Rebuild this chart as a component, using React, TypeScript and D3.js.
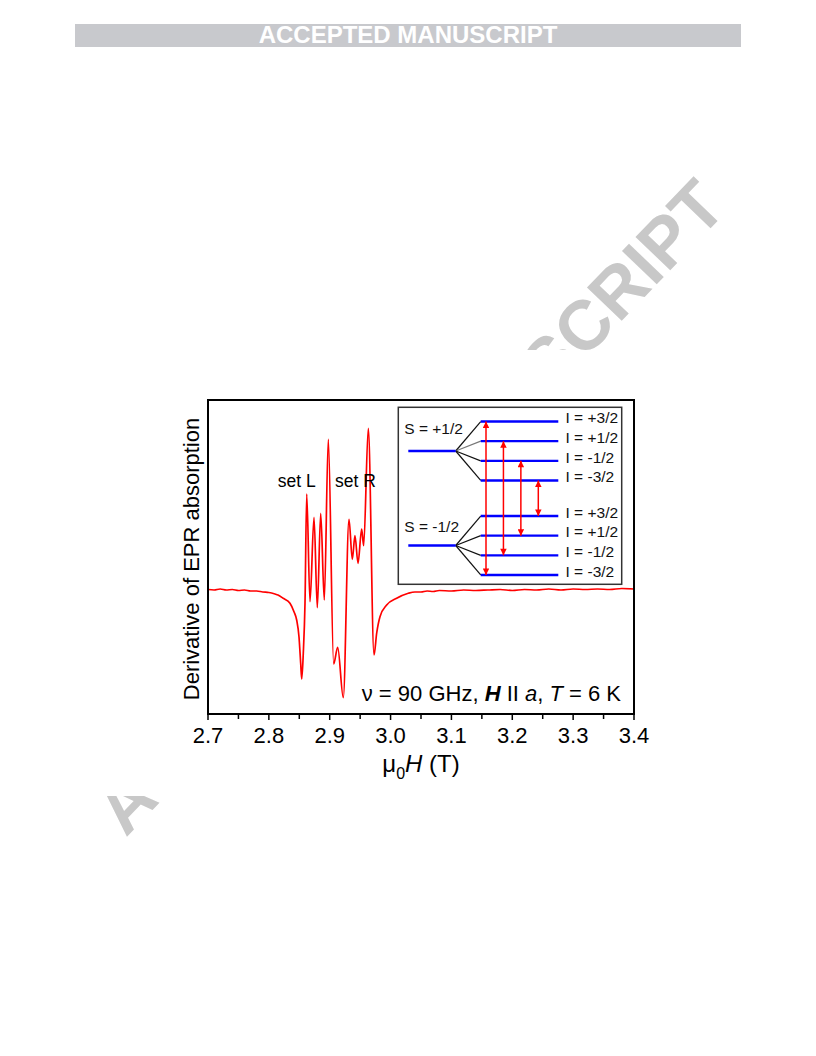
import React from "react";
import * as d3 from "d3";

// ---------- data ----------
const fieldT = [
  2.700, 2.710, 2.720, 2.730, 2.740, 2.750, 2.760, 2.770, 2.780, 2.790, 2.800, 2.810, 2.815,
  2.8237, 2.8347, 2.8413, 2.8457, 2.8495, 2.8523, 2.854, 2.8566, 2.8594,
  2.8622, 2.8676, 2.8742, 2.8796, 2.8852, 2.8911, 2.8977, 2.9065, 2.9131, 2.9223,
  2.9317, 2.9371, 2.9415, 2.9465, 2.9525, 2.9558, 2.9634, 2.9728, 2.9772, 2.9826,
  2.9936, 3.010, 3.0291, 3.040, 3.050, 3.060, 3.070, 3.080, 3.100, 3.120, 3.140, 3.160,
  3.180, 3.200, 3.220, 3.240, 3.260, 3.280, 3.300, 3.320, 3.340, 3.360, 3.380, 3.400,
];
const signal = [
  0.005, 0.0, 0.01, 0.0, 0.005, -0.005, 0.0, -0.01, -0.01, -0.02, -0.025, -0.04, -0.05,
  -0.083, -0.133, -0.217, -0.30, -0.467, -0.733, -0.89, -0.63, -0.13,
  0.96, -0.117, 0.727, -0.177, 0.767, -0.10, 1.507, -0.74, -0.573, -1.077,
  0.707, 0.307, 0.543, 0.267, 0.61, 0.443, 1.617, -0.65, -0.43, -0.267,
  -0.15, -0.083, -0.033, -0.02, -0.02, -0.01, -0.015, -0.005, -0.01, 0.0, -0.005, 0.0,
  0.005, -0.005, 0.005, 0.0, 0.01, 0.0, 0.01, 0.005, 0.01, 0.005, 0.015, 0.01,
];
const xMajorTicks = [2.7, 2.8, 2.9, 3.0, 3.1, 3.2, 3.3, 3.4];
const xMinorTicks = [2.75, 2.85, 2.95, 3.05, 3.15, 3.25, 3.35];

// inset: energy-level diagram
const electronS = [0.5, -0.5];
const electronLabels = ["S = +1/2", "S = -1/2"];
const nuclearI = [1.5, 0.5, -0.5, -1.5];
const nuclearLabels = ["I = +3/2", "I = +1/2", "I = -1/2", "I = -3/2"];
const transUpperI = [1.5, 0.5, -0.5, -1.5];
const transLowerI = [-1.5, -0.5, 0.5, 1.5];
const hyperfine = 0.208;

const FONT = "'Liberation Sans', Arial, Helvetica, sans-serif";

export default function App() {
  const W = 816, H = 1056;
  const left = 208, right = 634, top = 400, bottom = 714;

  const x = d3.scaleLinear().domain([2.7, 3.4]).range([left, right]);
  const y = d3.scaleLinear().domain([-1.24, 1.9]).range([bottom, top]);

  const pts: [number, number][] = fieldT.map((f, i) => [f, signal[i]]);
  const line = d3
    .line<[number, number]>()
    .x((d) => x(d[0]))
    .y((d) => y(d[1]))
    .curve(d3.curveMonotoneX);

  // inset scales
  const yE = d3.scaleLinear().domain([0, 1]).range([545.5, 451]);
  const mainE = (s: number) => s + 0.5; // S=+1/2 -> 1, S=-1/2 -> 0
  const subE = (s: number, i: number) => mainE(s) + i * hyperfine;
  const xArrow = d3.scalePoint<number>().domain(d3.range(transUpperI.length)).range([486, 538.3]);
  const mainX0 = 408.3, mainX1 = 455.7, subX0 = 480.7, subX1 = 558.3;

  return (
    <svg
      width={W}
      height={H}
      viewBox={`0 0 ${W} ${H}`}
      style={{ position: "absolute", left: 0, top: 0, background: "#fff" }}
      fontFamily={FONT}
    >
      <defs>
        <marker
          id="ah"
          viewBox="0 0 10 10"
          refX={10}
          refY={5}
          markerWidth={9}
          markerHeight={6.5}
          markerUnits="userSpaceOnUse"
          orient="auto-start-reverse"
        >
          <path d="M0,0 L10,5 L0,10 z" fill="#ff0000" />
        </marker>
        <clipPath id="plotclip">
          <rect x={left} y={top} width={right - left} height={bottom - top} />
        </clipPath>
      </defs>

      {/* banner */}
      <rect x={75} y={24} width={666} height={23} fill="#c8c9cd" />
      <text x={408} y={43.3} textAnchor="middle" fontSize={24} fontWeight="bold" fill="#fff">
        ACCEPTED MANUSCRIPT
      </text>

      {/* diagonal watermark */}
      <text
        transform="translate(410,507) rotate(-46.2)"
        textAnchor="middle"
        dominantBaseline="central"
        fontSize={70}
        fontWeight="bold"
        fill="#c8c8c8"
      >
        ACCEPTED MANUSCRIPT
      </text>

      {/* figure background (covers watermark) */}
      <rect x={95} y={350} width={625} height={446} fill="#fff" />

      {/* curve */}
      <path d={line(pts) || ""} fill="none" stroke="#ff0000" strokeWidth={1.7} clipPath="url(#plotclip)" />

      {/* frame */}
      <rect x={left} y={top} width={right - left} height={bottom - top} fill="none" stroke="#000" strokeWidth={2} />

      {/* x ticks */}
      {xMajorTicks.map((t) => (
        <g key={"M" + t}>
          <line x1={x(t)} x2={x(t)} y1={bottom} y2={bottom + 6} stroke="#000" strokeWidth={1.5} />
          <text x={x(t)} y={742.7} textAnchor="middle" fontSize={22} fill="#000">
            {d3.format(".1f")(t)}
          </text>
        </g>
      ))}
      {xMinorTicks.map((t) => (
        <line key={"m" + t} x1={x(t)} x2={x(t)} y1={bottom} y2={bottom + 5} stroke="#000" strokeWidth={1.5} />
      ))}

      {/* axis titles */}
      <text x={421} y={772} textAnchor="middle" fontSize={24} fill="#000">
        <tspan>μ</tspan>
        <tspan fontSize={16} dy={7}>0</tspan>
        <tspan fontStyle="italic" dy={-7}>H</tspan>
        <tspan> (T)</tspan>
      </text>
      <text
        transform={`translate(199,${(top + bottom) / 2 + 2}) rotate(-90)`}
        textAnchor="middle"
        fontSize={22}
        fill="#000"
      >
        Derivative of EPR absorption
      </text>

      {/* annotations */}
      <text x={277.7} y={486.5} fontSize={17.5} fill="#000">set L</text>
      <text x={335} y={487.3} fontSize={17.5} fill="#000">set R</text>
      <text x={621} y={700.7} textAnchor="end" fontSize={22} fill="#000">
        <tspan>ν = 90 GHz, </tspan>
        <tspan fontStyle="italic" fontWeight="bold">H</tspan>
        <tspan> II </tspan>
        <tspan fontStyle="italic">a</tspan>
        <tspan>, </tspan>
        <tspan fontStyle="italic">T</tspan>
        <tspan> = 6 K</tspan>
      </text>

      {/* inset */}
      <rect x={398.3} y={407.3} width={223.4} height={177} fill="#fff" stroke="#333" strokeWidth={1.5} />
      {electronS.map((s, si) => (
        <g key={"S" + s}>
          {nuclearI.map((iv, k) => (
            <line
              key={"f" + k}
              x1={mainX1}
              y1={yE(mainE(s))}
              x2={subX0}
              y2={yE(subE(s, iv))}
              stroke={si === 0 && k === 1 ? "#777" : "#111"}
              strokeWidth={1.2}
            />
          ))}
          <line x1={mainX0} x2={mainX1} y1={yE(mainE(s))} y2={yE(mainE(s))} stroke="#0000ff" strokeWidth={2.4} />
          {nuclearI.map((iv, k) => (
            <g key={"l" + k}>
              <line x1={subX0} x2={subX1} y1={yE(subE(s, iv))} y2={yE(subE(s, iv))} stroke="#0000ff" strokeWidth={2.4} />
              <text x={565.5} y={yE(subE(s, iv)) + 1.8} fontSize={15.5} fill="#111">
                {nuclearLabels[k]}
              </text>
            </g>
          ))}
          <text x={404.3} y={si === 0 ? 434.3 : 532.3} fontSize={15.5} fill="#111">
            {electronLabels[si]}
          </text>
        </g>
      ))}
      {transUpperI.map((iu, k) => (
        <line
          key={"t" + k}
          x1={xArrow(k)!}
          x2={xArrow(k)!}
          y1={yE(subE(0.5, iu))}
          y2={yE(subE(-0.5, transLowerI[k]))}
          stroke="#ff0000"
          strokeWidth={1.5}
          markerStart="url(#ah)"
          markerEnd="url(#ah)"
        />
      ))}
    </svg>
  );
}
